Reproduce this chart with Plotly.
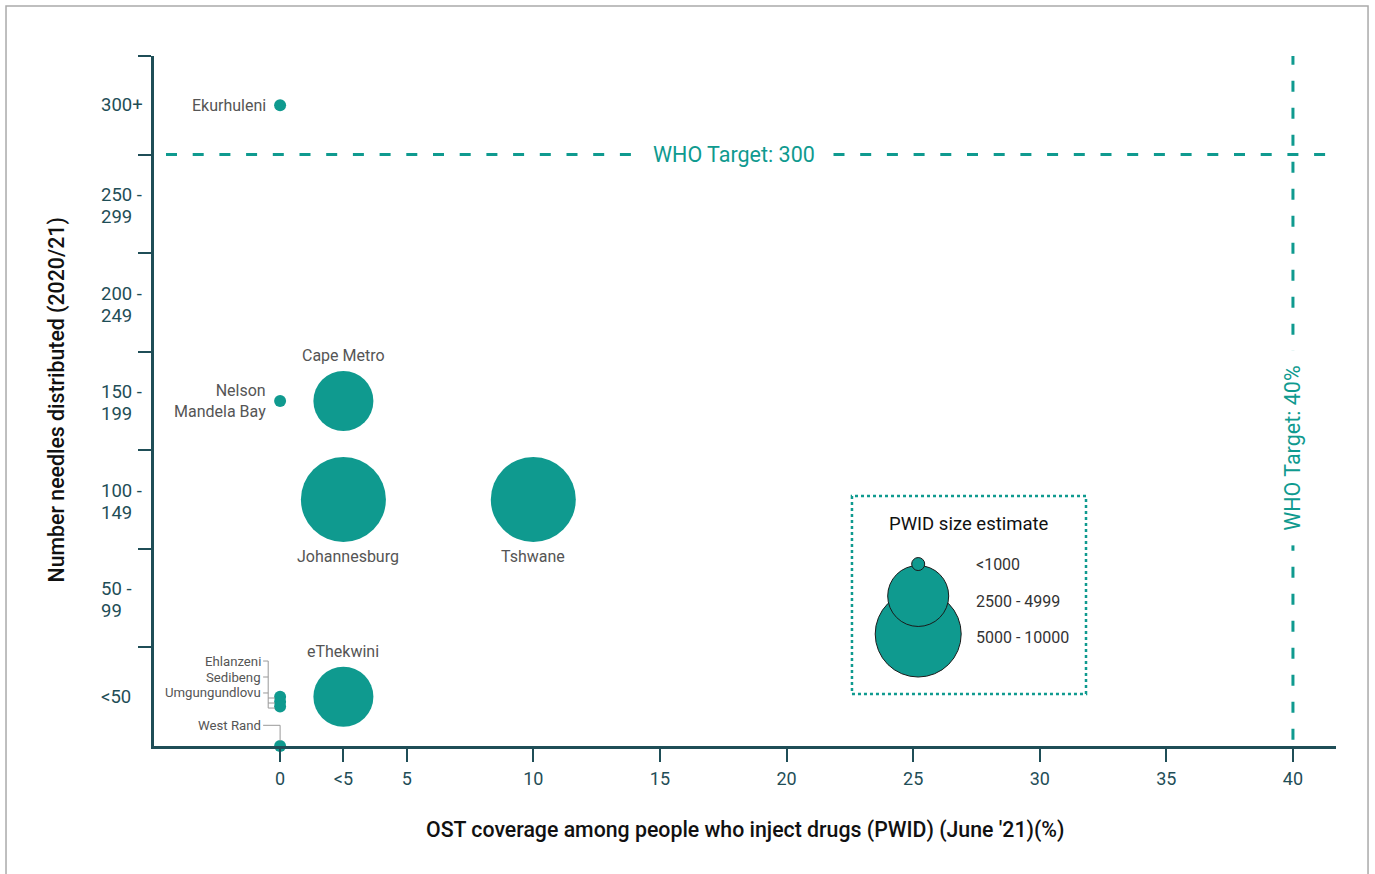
import plotly.graph_objects as go

# ---------------- data ----------------
districts = ["Ekurhuleni", "Nelson Mandela Bay", "Cape Metro", "Johannesburg", "Tshwane",
             "eThekwini", "Ehlanzeni", "Sedibeng", "Umgungundlovu", "West Rand"]
ost_coverage = ["0", "0", "<5", "<5", "10", "<5", "0", "0", "0", "0"]
needle_band = [6, 3, 3, 2, 2, 0, 0, -0.05, -0.1, -0.5]   # band index (0 = <50, 6 = 300+)
pwid_size = ["<1000", "<1000", "2500 - 4999", "5000 - 10000", "5000 - 10000",
             "2500 - 4999", "<1000", "<1000", "<1000", "<1000"]

x_tick_vals = [0, 2.5, 5, 10, 15, 20, 25, 30, 35, 40]
x_tick_text = ["0", "<5", "5", "10", "15", "20", "25", "30", "35", "40"]
y_band_labels = ["<50", "50 -\n99", "100 -\n149", "150 -\n199", "200 -\n249", "250 -\n299", "300+"]
size_classes = ["<1000", "2500 - 4999", "5000 - 10000"]
size_px = {"<1000": 12, "2500 - 4999": 60, "5000 - 10000": 85}

who_needles_band = 5.5
who_ost = 40

TEAL = "#0f9a8f"
AXIS = "#1f4e57"
GRAY = "#555555"
FONT = "Roboto"

cov_map = dict(zip(x_tick_text, x_tick_vals))
xs = [cov_map[c] for c in ost_coverage]

fig = go.Figure()

fig.add_trace(go.Scatter(
    x=xs, y=needle_band, mode="markers",
    marker=dict(size=[size_px[s] for s in pwid_size], color=TEAL, opacity=1,
                line=dict(width=0)),
    hoverinfo="text", text=districts, showlegend=False, cliponaxis=False))

# legend bubbles (nested)
leg_x = 25.2
leg_y = {"5000 - 10000": 0.636, "2500 - 4999": 1.022, "<1000": 1.346}
for s in reversed(size_classes):
    fig.add_trace(go.Scatter(
        x=[leg_x], y=[leg_y[s]], mode="markers",
        marker=dict(size=size_px[s] + 1, color=TEAL, line=dict(width=1, color="#1a1a1a")),
        hoverinfo="skip", showlegend=False))
text_y = {"<1000": 1.346, "2500 - 4999": 0.971, "5000 - 10000": 0.596}
annotations = []
for s in size_classes:
    annotations.append(dict(x=27.42, y=text_y[s], text=s, showarrow=False, xanchor="left",
                            font=dict(family=FONT, size=16, color="#333333")))
annotations.append(dict(x=27.2, y=1.752, text="PWID size estimate", showarrow=False,
                        font=dict(family=FONT, size=18.5, color="#111111")))

# point labels
label_spec = [
    ("Ekurhuleni", -0.47, 6, "right", "middle"),
    ("Nelson<br>Mandela Bay", -0.47, 3, "right", "middle"),
    ("Cape Metro", 2.5, 3.46, "center", "middle"),
    ("Johannesburg", 2.7, 1.42, "center", "middle"),
    ("Tshwane", 10, 1.42, "center", "middle"),
    ("eThekwini", 2.5, 0.46, "center", "middle"),
]
for t, x, y, xa, ya in label_spec:
    annotations.append(dict(x=x, y=y, text=t, showarrow=False, xanchor=xa, yanchor=ya,
                            align="right", font=dict(family=FONT, size=16, color=GRAY)))
small_spec = [("Ehlanzeni", 0.362), ("Sedibeng", 0.2), ("Umgungundlovu", 0.038), ("West Rand", -0.29)]
for t, y in small_spec:
    annotations.append(dict(x=-0.68, y=y, text=t, showarrow=False, xanchor="right",
                            font=dict(family=FONT, size=13.2, color=GRAY)))

# y band labels (two-line labels drawn as separate lines for tighter spacing)
for i, lab in enumerate(y_band_labels):
    lines = lab.split("\n")
    offsets = [0.0] if len(lines) == 1 else [0.09, -0.133]
    for ln, off in zip(lines, offsets):
        annotations.append(dict(xref="paper", x=-0.0465, y=i + off, text=ln, showarrow=False,
                                xanchor="left", align="left",
                                font=dict(family=FONT, size=18.5, color=AXIS)))

# WHO labels
annotations.append(dict(xref="paper", x=0.491, y=who_needles_band, text="WHO Target: 300",
                        showarrow=False, bgcolor="white", borderpad=14,
                        font=dict(family=FONT, size=21.5, color=TEAL)))
annotations.append(dict(x=who_ost, yref="paper", y=0.432, text="WHO Target: 40%",
                        showarrow=False, bgcolor="white", textangle=-90, borderpad=14,
                        font=dict(family=FONT, size=21.5, color=TEAL)))

# axis titles
annotations.append(dict(xref="paper", yref="paper", x=0.5, y=-0.1217, yanchor="middle",
                        text="OST coverage among people who inject drugs (PWID) (June '21)(%)",
                        showarrow=False, font=dict(family=FONT, size=21.3, weight=500, color="#111111")))
annotations.append(dict(xref="paper", yref="paper", x=-0.082, y=0.501, xanchor="center",
                        yanchor="middle", textangle=-90,
                        text="Number needles distributed (2020/21)",
                        showarrow=False, font=dict(family=FONT, size=21.3, weight=500, color="#111111")))

shapes = [
    # WHO lines
    dict(type="line", xref="paper", x0=0.01015, x1=0.9915, y0=who_needles_band, y1=who_needles_band,
         line=dict(color=TEAL, width=3, dash="11px,15.7px"), layer="below"),
    dict(type="line", x0=who_ost, x1=who_ost, yref="paper", y0=0.009, y1=1.0,
         line=dict(color=TEAL, width=3, dash="11px,16px"), layer="below"),
    # legend box
    dict(type="rect", xref="paper", yref="paper", x0=0.5905, x1=0.7885, y0=0.0754, y1=0.3623,
         line=dict(color=TEAL, width=2.5, dash="dot"), layer="below"),
    # outer border
    dict(type="rect", xref="paper", yref="paper", x0=-0.1252, x1=1.0271, y0=-0.2, y1=1.0725,
         line=dict(color="#aaaaaa", width=1.5)),
]
# leader lines
lc = dict(color="#999999", width=1)
shapes += [
    dict(type="line", x0=-0.67, x1=-0.47, y0=0.362, y1=0.362, line=lc),
    dict(type="line", x0=-0.67, x1=-0.47, y0=0.2, y1=0.2, line=lc),
    dict(type="line", x0=-0.67, x1=-0.47, y0=0.038, y1=0.038, line=lc),
    dict(type="line", x0=-0.47, x1=-0.47, y0=0.362, y1=-0.115, line=lc),
    dict(type="line", x0=-0.47, x1=-0.2, y0=-0.013, y1=-0.013, line=lc),
    dict(type="line", x0=-0.47, x1=-0.2, y0=-0.064, y1=-0.064, line=lc),
    dict(type="line", x0=-0.47, x1=-0.2, y0=-0.115, y1=-0.115, line=lc),
    dict(type="line", x0=-0.67, x1=0, y0=-0.29, y1=-0.29, line=lc),
    dict(type="line", x0=0, x1=0, y0=-0.29, y1=-0.45, line=lc),
]

fig.update_layout(
    width=1375, height=874,
    margin=dict(l=154, r=39, t=56, b=128),
    paper_bgcolor="white", plot_bgcolor="white",
    font=dict(family=FONT),
    annotations=annotations, shapes=shapes,
    xaxis=dict(range=[-4.98, 41.7], tickvals=x_tick_vals, ticktext=x_tick_text,
               showgrid=False, zeroline=False, showline=True, linecolor=AXIS, linewidth=2.5,
               ticks="outside", ticklen=13, tickwidth=1.5, tickcolor=AXIS,
               tickfont=dict(family=FONT, size=18, color=AXIS), ticklabelstandoff=2),
    yaxis=dict(range=[-0.5, 6.5], tickvals=[], showticklabels=False,
               showgrid=False, zeroline=False, showline=True, linecolor=AXIS, linewidth=2.5,
               minor=dict(tickvals=[0.5, 1.5, 2.5, 3.5, 4.5, 5.5, 6.5], ticks="outside",
                          ticklen=13, tickwidth=1.5, tickcolor=AXIS, showgrid=False)),
)

fig.write_html("out.html", post_script="document.body.style.margin='0px';",
               config={"displayModeBar": False})
